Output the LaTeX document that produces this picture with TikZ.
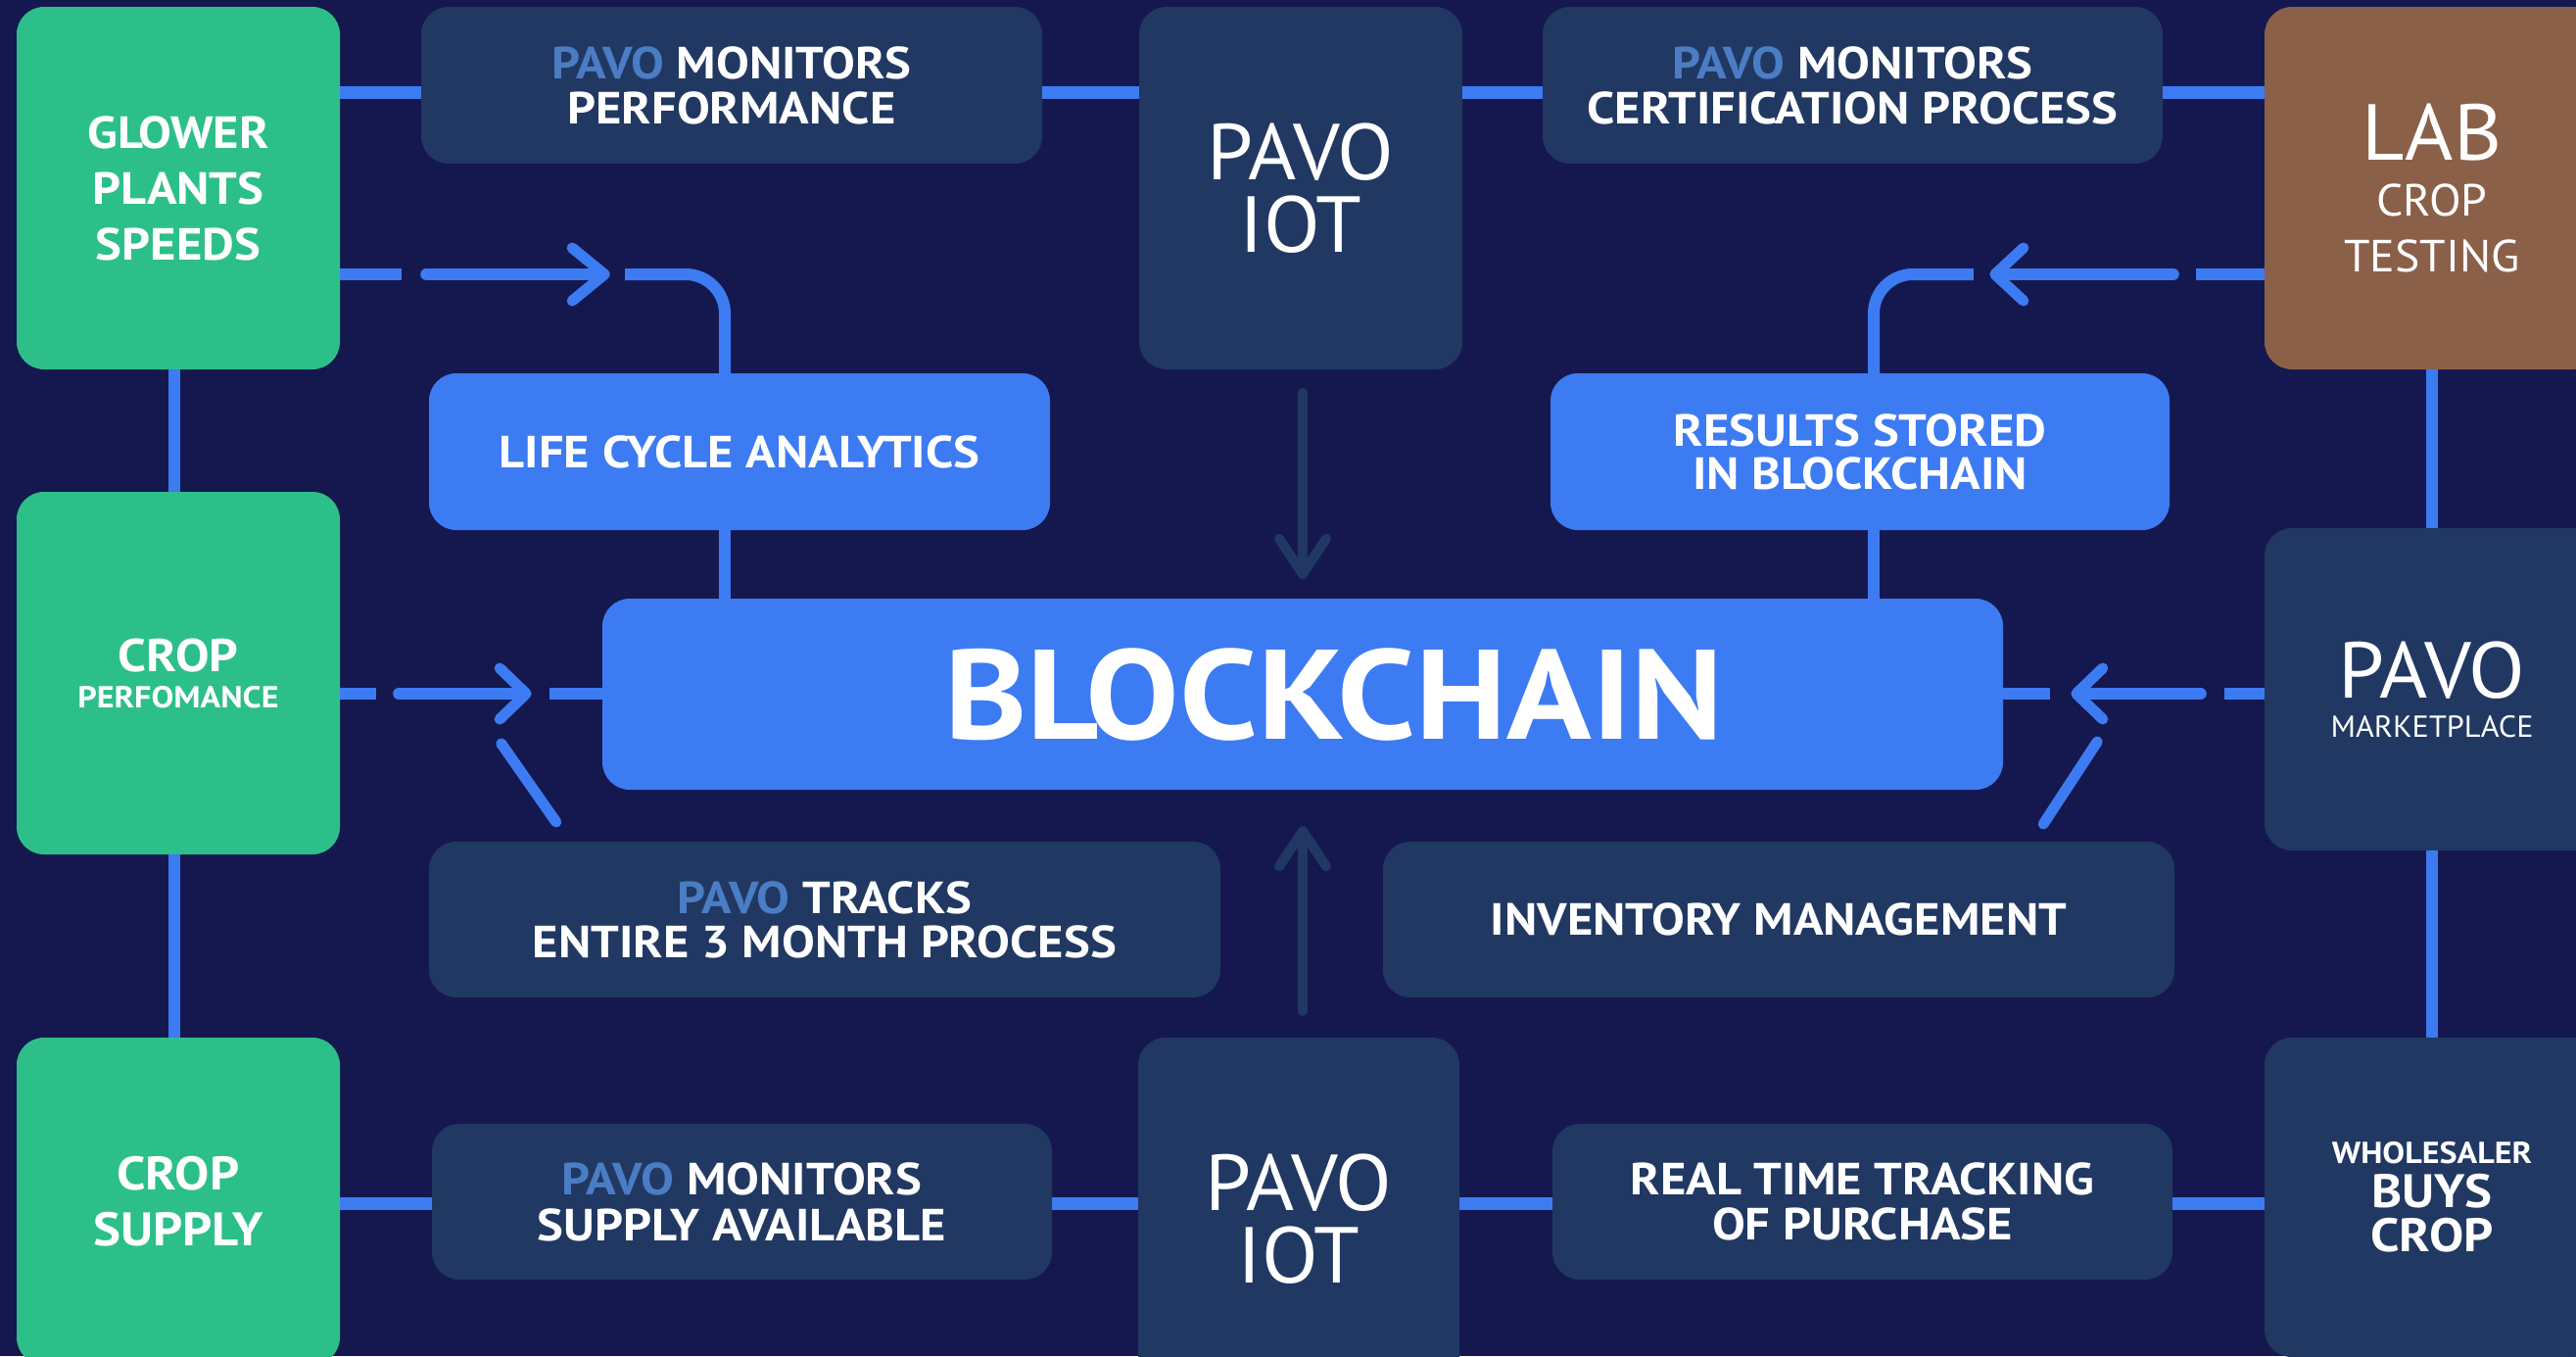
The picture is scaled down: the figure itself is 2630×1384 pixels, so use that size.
\documentclass[tikz,border=0pt]{standalone}
\usepackage{fontspec}
\setmainfont{PT Sans}[UprightFeatures={FakeStretch=1.04},BoldFeatures={FakeStretch=1.1}]
\usetikzlibrary{calc}
\definecolor{bg}{HTML}{15184E}
\definecolor{grn}{HTML}{2DBF8A}
\definecolor{drk}{HTML}{213862}
\definecolor{blu}{HTML}{3D7BF3}
\definecolor{brn}{HTML}{8B6049}
\definecolor{pv}{HTML}{4A7DC4}
\newcommand{\fsz}[2]{\fontsize{#1}{#2}\selectfont}
\newcommand{\pv}{{\color{pv}PAVO}}
\begin{document}
\begin{tikzpicture}[x=1pt,y=-1pt,
  box/.style={rounded corners=28pt, inner sep=0pt, text=white, align=center},
  tall/.style={box, minimum width=330pt, minimum height=370pt},
  wide/.style={box, minimum width=634pt, minimum height=160pt},
  bold/.style={font=\bfseries\fsz{46}{46}},
  conn/.style={draw=blu, line width=13pt},
  vconn/.style={draw=blu, line width=12pt},
  chev/.style={draw=blu, line width=11pt, line cap=round, line join=round},
  darr/.style={draw=drk, line width=10pt, line cap=round, line join=round}]
\useasboundingbox (0,0) rectangle (2630,1384);
\fill[bg] (0,0) rectangle (2630,1384);
\clip (0,0) rectangle (2630,1384);

% helper coordinates
\coordinate (yTop) at (0,94);
\coordinate (yBot) at (0,1228);
\coordinate (yArr) at (0,280);
\coordinate (yMid) at (0,708);
\coordinate (xL) at (178,0);
\coordinate (xR) at (2483,0);
\coordinate (xLife) at (740,0);
\coordinate (xRes) at (1913,0);
\coordinate (xA) at (1330,0);

% left column
\node[tall, fill=grn, font=\bfseries\fsz{46}{57}] (glow) at (182,192) {GLOWER\\PLANTS\\SPEEDS};
\node[tall, fill=grn, font=\bfseries\fsz{31}{37}] (perf) at (182,687) {{\fsz{47}{47}CROP}\\PERFOMANCE};
\node[tall, fill=grn, minimum height=334pt, font=\bfseries\fsz{48}{57}] (supply) at (182,1226) {CROP\\SUPPLY};

% top row
\node[wide, fill=drk, bold, minimum width=634pt] (pmperf) at (747,87) {\pv{} MONITORS\\PERFORMANCE};
\node[tall, fill=drk, font=\fsz{81}{74}] (iot1) at (1328,192) {PAVO\\IOT};
\node[wide, fill=drk, bold, minimum width=633pt] (pmcert) at (1891.5,87) {\pv{} MONITORS\\CERTIFICATION PROCESS};
\node[tall, fill=brn, minimum width=342pt, font=\fsz{46}{57}] (lab) at (2483,192) {{\fsz{81}{81}LAB}\\CROP\\TESTING};

% second row
\node[wide, fill=blu, bold] (life) at (755,461) {LIFE CYCLE ANALYTICS};
\node[wide, fill=blu, bold, minimum width=632pt, font=\bfseries\fsz{46}{44}] (results) at (1899,461) {RESULTS STORED\\IN BLOCKCHAIN};

% blockchain
\node[box, fill=blu, minimum width=1430pt, minimum height=195pt, font=\bfseries\fsz{130}{130}] (block) at (1330,708.5) {\hspace*{64pt}BLOCKCHAIN};
\node[tall, fill=drk, minimum width=342pt, minimum height=329pt, font=\fsz{31}{40}] (market) at (2483,703.5) {{\fsz{81}{81}PAVO}\\MARKETPLACE};

% fourth row
\node[wide, fill=drk, minimum width=808pt, minimum height=159pt, font=\bfseries\fsz{46}{45}] (tracks) at (842,938.5) {\pv{} TRACKS\\ENTIRE 3 MONTH PROCESS};
\node[wide, fill=drk, minimum width=808pt, minimum height=159pt, bold] (inv) at (1816,938.5) {INVENTORY MANAGEMENT};

% bottom row
\node[wide, fill=drk, minimum width=633pt, minimum height=159pt, font=\bfseries\fsz{46}{47}] (pmsupply) at (757.5,1226.5) {\pv{} MONITORS\\SUPPLY AVAILABLE};
\node[tall, fill=drk, minimum width=328pt, font=\fsz{81}{74}] (iot2) at (1326,1244) {PAVO\\IOT};
\node[wide, fill=drk, minimum width=633pt, minimum height=159pt, font=\bfseries\fsz{46}{46}] (realtime) at (1901.5,1226.5) {REAL TIME TRACKING\\OF PURCHASE};
\node[tall, fill=drk, minimum width=342pt, minimum height=326pt, font=\bfseries\fsz{48}{45}] (whole) at (2483,1222) {{\fsz{31}{31}WHOLESALER}\\BUYS\\CROP};

% top row connectors
\draw[conn] (glow.east |- yTop) -- (pmperf.west |- yTop);
\draw[conn] (pmperf.east |- yTop) -- (iot1.west |- yTop);
\draw[conn] (iot1.east |- yTop) -- (pmcert.west |- yTop);
\draw[conn] (pmcert.east |- yTop) -- (lab.west |- yTop);

% bottom row connectors
\draw[conn] (supply.east |- yBot) -- (pmsupply.west |- yBot);
\draw[conn] (pmsupply.east |- yBot) -- (iot2.west |- yBot);
\draw[conn] (iot2.east |- yBot) -- (realtime.west |- yBot);
\draw[conn] (realtime.east |- yBot) -- (whole.west |- yBot);

% vertical side connectors
\draw[vconn] (glow.south -| xL) -- (perf.north -| xL);
\draw[vconn] (perf.south -| xL) -- (supply.north -| xL);
\draw[vconn] (lab.south -| xR) -- (market.north -| xR);
\draw[vconn] (market.south -| xR) -- (whole.north -| xR);

% glower -> life cycle (dashed arrow)
\coordinate (g0) at (glow.east |- yArr);
\draw[conn, line width=12pt] (g0) -- ($(g0)+(63,0)$);
\draw[conn, line width=12pt, line cap=round] ($(g0)+(88,0)$) -- ($(g0)+(268,0)$);
\draw[chev] ($(g0)+(237,-27)$) -- ($(g0)+(270,0)$) -- ($(g0)+(237,27)$);
\draw[conn, line width=12pt, rounded corners=40pt] ($(g0)+(291,0)$) -| (life.north -| xLife);
\draw[vconn] (life.south -| xLife) -- (block.north -| xLife);

% lab -> results (dashed arrow)
\coordinate (l0) at (lab.west |- yArr);
\draw[conn, line width=12pt] (l0) -- ($(l0)+(-70,0)$);
\draw[conn, line width=12pt, line cap=round] ($(l0)+(-93,0)$) -- ($(l0)+(-273,0)$);
\draw[chev] ($(l0)+(-246,-27)$) -- ($(l0)+(-275,0)$) -- ($(l0)+(-246,27)$);
\draw[conn, line width=12pt, rounded corners=40pt] ($(l0)+(-297,0)$) -| (results.north -| xRes);
\draw[vconn] (results.south -| xRes) -- (block.north -| xRes);

% crop performance -> blockchain
\coordinate (p0) at (perf.east |- yMid);
\draw[conn, line width=12pt] (p0) -- ($(p0)+(37,0)$);
\draw[conn, line width=12pt, line cap=round] ($(p0)+(60,0)$) -- ($(p0)+(188,0)$);
\draw[chev] ($(p0)+(163,-26)$) -- ($(p0)+(190,0)$) -- ($(p0)+(163,26)$);
\draw[conn, line width=12pt] ($(p0)+(214,0)$) -- (block.west |- yMid);

% marketplace -> blockchain
\coordinate (m0) at (market.west |- yMid);
\draw[conn, line width=12pt] (m0) -- ($(m0)+(-41,0)$);
\draw[conn, line width=12pt, line cap=round] ($(m0)+(-65,0)$) -- ($(m0)+(-190,0)$);
\draw[chev] ($(m0)+(-165,-26)$) -- ($(m0)+(-192,0)$) -- ($(m0)+(-165,26)$);
\draw[conn, line width=12pt] ($(m0)+(-219,0)$) -- (block.east |- yMid);

% diagonal strokes
\coordinate (bl) at (block.west |- yMid);
\coordinate (br) at (block.east |- yMid);
\draw[chev] ($(bl)+(-103,51)$) -- ($(bl)+(-47,131)$);
\draw[chev] ($(br)+(96,49)$) -- ($(br)+(41,133)$);

% IoT arrows
\coordinate (a1) at ($(iot1.south -| xA)+(0,24)$);
\coordinate (a1t) at ($(block.north -| xA)+(0,-25)$);
\draw[darr] (a1) -- (a1t);
\draw[darr] ($(a1t)+(-24,-36)$) -- (a1t) -- ($(a1t)+(24,-36)$);
\coordinate (a2) at ($(iot2.north -| xA)+(0,-27)$);
\coordinate (a2t) at ($(block.south -| xA)+(0,42)$);
\draw[darr] (a2) -- (a2t);
\draw[darr] ($(a2t)+(-24,36)$) -- (a2t) -- ($(a2t)+(24,36)$);
\end{tikzpicture}
\end{document}
